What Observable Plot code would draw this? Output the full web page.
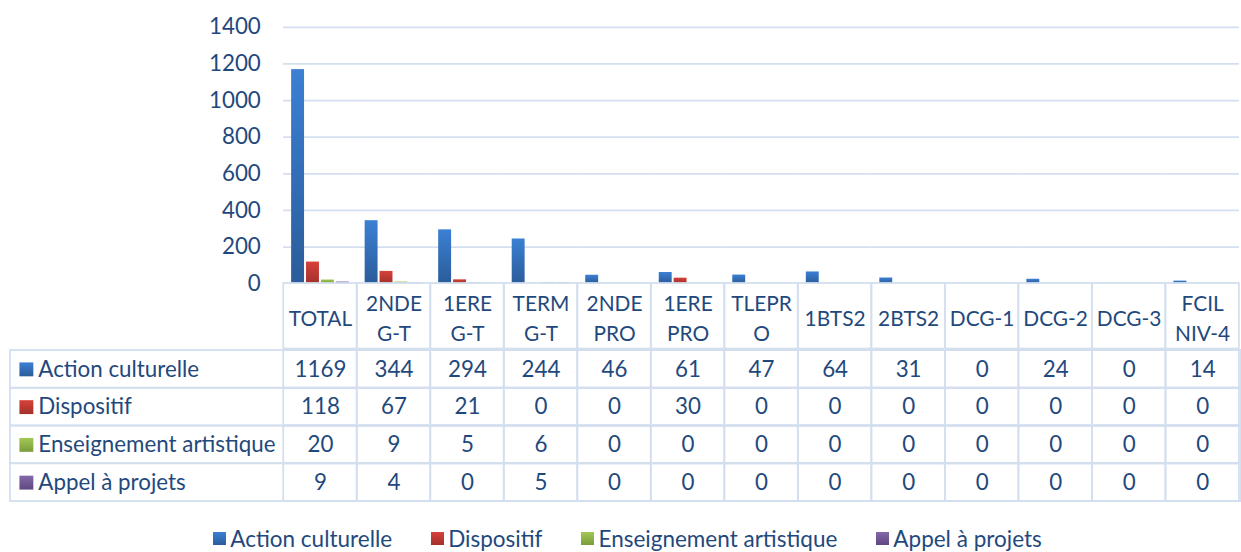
<!DOCTYPE html>
<html>
<head>
<meta charset="utf-8">
<script src="https://cdn.jsdelivr.net/npm/d3@7"></script>
<script src="https://cdn.jsdelivr.net/npm/@observablehq/plot@0.6"></script>
<style>
  html, body { margin: 0; padding: 0; background: #fff; overflow: hidden; width: 1241px; height: 552px; }
  #chart svg { display: block; overflow: visible; }
  #legend { display: flex; justify-content: center; align-items: center; gap: 39px; margin-top: 23px; padding-left: 14px;
    font-family: Lato, "Open Sans", sans-serif; font-size: 22.5px; color: #1f497d; }
  #legend .item { display: flex; align-items: center; gap: 4px; white-space: nowrap; }
  #legend .sw { width: 13px; height: 13px; display: inline-block; }
</style>
</head>
<body>
<svg width="0" height="0" style="position:absolute">
  <defs>
    <linearGradient id="gBlue" x1="0" y1="0" x2="0" y2="1"><stop offset="0" stop-color="#3b80d4"/><stop offset="1" stop-color="#2b5c9a"/></linearGradient>
    <linearGradient id="gRed" x1="0" y1="0" x2="0" y2="1"><stop offset="0" stop-color="#d6423a"/><stop offset="1" stop-color="#a3302b"/></linearGradient>
    <linearGradient id="gGreen" x1="0" y1="0" x2="0" y2="1"><stop offset="0" stop-color="#a2c757"/><stop offset="1" stop-color="#7b9c39"/></linearGradient>
    <linearGradient id="gPurple" x1="0" y1="0" x2="0" y2="1"><stop offset="0" stop-color="#8468a8"/><stop offset="1" stop-color="#5f4780"/></linearGradient>
  </defs>
</svg>
<div id="chart"></div>
<div id="legend"></div>
<script>
// ---- data ----
const categories = ["TOTAL", "2NDE G-T", "1ERE G-T", "TERM G-T", "2NDE PRO", "1ERE PRO", "TLEPRO", "1BTS2", "2BTS2", "DCG-1", "DCG-2", "DCG-3", "FCIL NIV-4"];
const headerLabels = ["TOTAL", "2NDE\nG-T", "1ERE\nG-T", "TERM\nG-T", "2NDE\nPRO", "1ERE\nPRO", "TLEPR\nO", "1BTS2", "2BTS2", "DCG-1", "DCG-2", "DCG-3", "FCIL\nNIV-4"];
const seriesNames = ["Action culturelle", "Dispositif", "Enseignement artistique", "Appel à projets"];
const actionCulturelle = [1169, 344, 294, 244, 46, 61, 47, 64, 31, 0, 24, 0, 14];
const dispositif = [118, 67, 21, 0, 0, 30, 0, 0, 0, 0, 0, 0, 0];
const enseignementArtistique = [20, 9, 5, 6, 0, 0, 0, 0, 0, 0, 0, 0, 0];
const appelAProjets = [9, 4, 0, 5, 0, 0, 0, 0, 0, 0, 0, 0, 0];
const yTicks = [0, 200, 400, 600, 800, 1000, 1200, 1400];

// ---- styling ----
const fills = ["url(#gBlue)", "url(#gRed)", "url(#gGreen)", "url(#gPurple)"];
const cssFills = ["linear-gradient(#3b80d4,#2b5c9a)", "linear-gradient(#d6423a,#a3302b)", "linear-gradient(#a2c757,#7b9c39)", "linear-gradient(#8468a8,#5f4780)"];
const textColor = "#1f497d";
const lineColor = "#d3dfef";
const font = "Lato, 'Open Sans', sans-serif";
const fontSize = 22.5;
const headerFontSize = 21;

const seriesValues = [actionCulturelle, dispositif, enseignementArtistique, appelAProjets];
const rows = [];
seriesNames.forEach((s, i) => categories.forEach((c, j) => rows.push({series: s, category: c, value: seriesValues[i][j]})));
const headerOf = new Map(categories.map((c, i) => [c, headerLabels[i]]));

const W = 1249;
const colorScale = {type: "ordinal", domain: seriesNames, range: fills};
const baseStyle = {fontFamily: font, fontSize: fontSize + "px", color: textColor, background: "transparent"};

// ---- bar chart ----
const chart = Plot.plot({
  width: W, height: 285,
  marginLeft: 283, marginRight: 0, marginTop: 27, marginBottom: 0,
  style: baseStyle,
  fx: {domain: categories, padding: 0, axis: null},
  x: {domain: seriesNames, paddingInner: 0.125, paddingOuter: 0.385, axis: null},
  y: {domain: [0, 1400], axis: null, label: null},
  color: colorScale,
  marks: [
    Plot.ruleY(yTicks.filter(d => d > 0), {stroke: lineColor, strokeWidth: 1.8}),
    Plot.axisY(yTicks, {tickSize: 0, tickPadding: 23, tickFormat: d => String(d), label: null, fill: textColor, fontSize: fontSize, fontFamily: font}),
    Plot.barY(rows, {fx: "category", x: "series", y: "value", fill: "series"})
  ]
});

// ---- table header ----
const header = Plot.plot({
  width: W, height: 66,
  marginLeft: 283, marginRight: 0, marginTop: 0, marginBottom: 0,
  style: baseStyle,
  x: {domain: categories, padding: 0, axis: null},
  marks: [
    Plot.cell(categories, {x: d => d, stroke: lineColor, strokeWidth: 1.8, fill: "none"}),
    Plot.text(categories, {x: d => d, text: d => headerOf.get(d), frameAnchor: "middle", lineHeight: 1.45, fill: textColor, fontSize: headerFontSize})
  ]
});

// ---- table body ----
const body = Plot.plot({
  width: W, height: 154,
  marginLeft: 283, marginRight: 0, marginTop: 0, marginBottom: 1,
  style: baseStyle,
  x: {domain: categories, padding: 0, axis: null},
  y: {domain: seriesNames, padding: 0, axis: null},
  color: colorScale,
  marks: [
    Plot.cell(seriesNames, {y: d => d, insetLeft: -273, stroke: lineColor, strokeWidth: 1.8, fill: "none"}),
    Plot.cell(rows, {x: "category", y: "series", stroke: lineColor, strokeWidth: 1.8, fill: "none"}),
    Plot.text(rows, {x: "category", y: "series", text: d => String(d.value), fill: textColor, fontSize: fontSize}),
    Plot.dot(seriesNames, {y: d => d, frameAnchor: "left", dx: -257, symbol: "square", r: 7.9, fill: d => d}),
    Plot.text(seriesNames, {y: d => d, text: d => d, frameAnchor: "left", dx: -245, textAnchor: "start", fill: textColor, fontSize: fontSize})
  ]
});

const host = document.getElementById("chart");
host.append(chart, header, body);

// ---- legend ----
const legend = document.getElementById("legend");
seriesNames.forEach((s, i) => {
  const item = document.createElement("span");
  item.className = "item";
  const sw = document.createElement("span");
  sw.className = "sw";
  sw.style.background = cssFills[i];
  const label = document.createElement("span");
  label.textContent = s;
  item.append(sw, label);
  legend.append(item);
});
</script>
</body>
</html>
